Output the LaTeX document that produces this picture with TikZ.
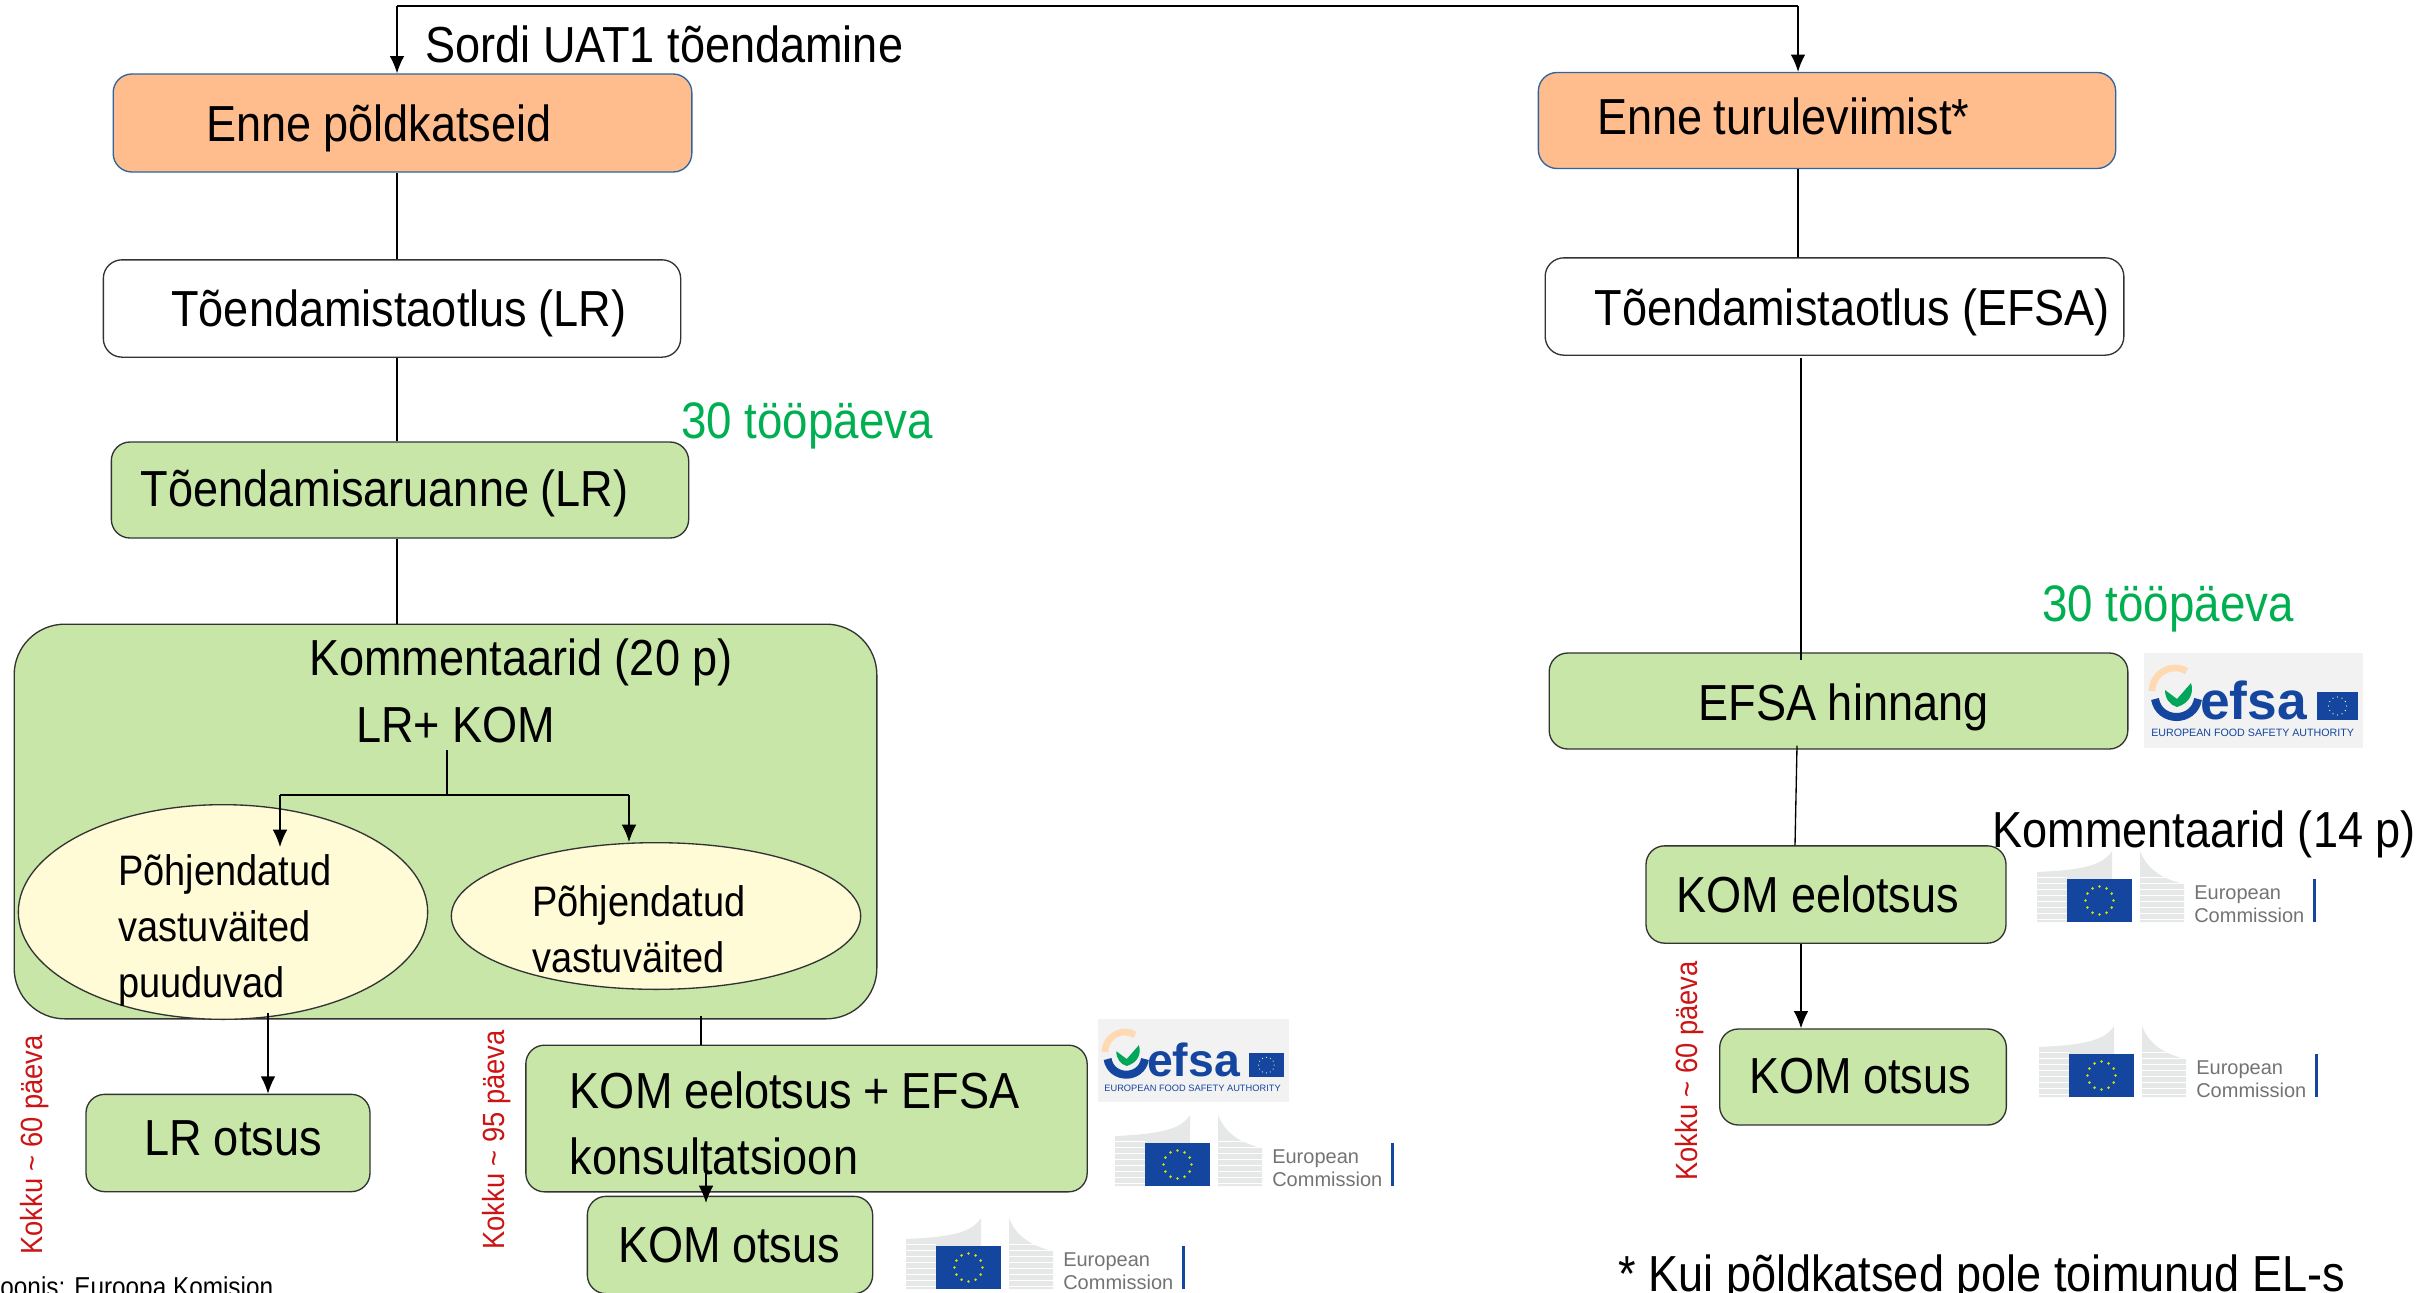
\documentclass[tikz,border=0pt]{standalone}
\usepackage{fontspec}
\setmainfont[FakeStretch=0.89]{Liberation Sans}
\newfontfamily\logofont{Liberation Sans}
\usetikzlibrary{arrows.meta,shapes.geometric}

\definecolor{kastroheline}{RGB}{199,230,168}
\definecolor{kastoranz}{RGB}{255,188,140}
\definecolor{kastkollane}{RGB}{255,251,214}
\definecolor{eusinine}{RGB}{20,70,160}
\definecolor{euhall}{RGB}{230,232,232}

\tikzset{
  kast/.style={draw=black!80,line width=1pt,rounded corners=14pt,inner xsep=0pt,inner ysep=0pt,text depth=0pt,
    align=left,font=\fontsize{38}{50}\selectfont,execute at begin node={\spaceskip=.23em\relax\hspace*{#1}}},
  rohekast/.style={kast=#1,fill=kastroheline},
  valgekast/.style={kast=#1,fill=white},
  oranzkast/.style={kast=#1,fill=kastoranz,draw={rgb,255:red,46;green,100;blue,160}},
  ovaal/.style={draw=black!80,line width=1pt,ellipse,fill=kastkollane,inner sep=0pt},
  tekst/.style={anchor=base west,inner sep=0pt,align=left,font=\fontsize{38}{50}\selectfont},
  ovaaltekst/.style={anchor=base west,inner sep=0pt,align=left,font=\fontsize{32}{42}\selectfont},
  rohetekst/.style={tekst,text={rgb,255:red,0;green,176;blue,80},font=\fontsize{38.5}{50}\selectfont},
  punanetekst/.style={rotate=90,inner sep=0pt,text={rgb,255:red,204;green,20;blue,20},font=\fontsize{23}{26}\selectfont},
  joon/.style={line width=1pt,black},
  nool/.style={joon,-{Latex[length=13pt,width=11pt]}},
  pics/eclogo/.style={code={
    \begin{scope}[yscale=-1]
    \fill[euhall] (-30,-7) .. controls (10,-9) and (35,-12) .. (45,-28) -- (45,0) -- (0,0) -- (0,43) -- (-30,43) -- cycle;
    \fill[euhall] (73,-28) .. controls (80,-10) and (95,0) .. (117,5) -- (117,43) -- (73,43) -- cycle;
    \foreach \y in {-2,4,...,40} {
      \draw[white,line width=0.5pt] (-30,\y) -- (0,\y);
      \draw[white,line width=0.5pt] (73,\y) -- (117,\y);
    }
    \fill[eusinine] (0,0) rectangle (65,43);
    \foreach \a in {0,30,...,330} \fill[yellow!80!green] (32.5,21.5) ++(\a:14) circle (1.4);
    \node (-nimi1) [anchor=base west,inner sep=0pt,text=black!55,font=\logofont\fontsize{15}{18}\selectfont] at (127,20) {European};
    \node (-nimi2) [anchor=base west,inner sep=0pt,text=black!55,font=\logofont\fontsize{15}{18}\selectfont] at (127,43) {Commission};
    \fill[eusinine] (246,0) rectangle (249,43);
    \end{scope}
  }},
  pics/efsalogo/.style={code={
    \begin{scope}[yscale=-1,scale=#1]
    \fill[black!5] (0,0) rectangle (219,95);
    \draw[orange!30,line width=5pt] (8,38) arc[start angle=180,end angle=300,radius=23];
    \draw[eusinine,line width=6pt] (11,46) .. controls (15,70) and (50,70) .. (54,46);
    \fill[teal!70!green] (21,37) -- (33,46) -- (47,30) .. controls (50,40) and (46,50) .. (33,54) .. controls (26,52) and (21,46) .. (21,37) -- cycle;
    \fill[eusinine] (173,39) rectangle (214,67);
    \foreach \a in {0,30,...,330} \fill[white!70!yellow] (193.5,53) ++(\a:9) circle (0.7);
    \node (-nimi) [anchor=base west,inner sep=0pt,text=eusinine,font=\logofont\bfseries\fontsize{40}{44}\selectfont] at (56,66) {\scalebox{#1}{efsa}};
    \node (-alla) [anchor=base west,inner sep=0pt,text=eusinine,font=\logofont\fontsize{8}{10}\selectfont] at (7,83) {\scalebox{#1}{EUROPEAN FOOD SAFETY AUTHORITY}};
    \end{scope}
  }}
}

\begin{document}
\begin{tikzpicture}[x=0.75pt,y=0.75pt,yscale=-1,xscale=1]
\clip (0,0) rectangle (2422,1292);

%Rectangles, left column
\node (poldkatseid) [oranzkast=70pt,text width=434pt,minimum height=73.5pt,text height=27.8pt] at (402.5,123) {Enne põldkatseid};
\node (taotluslr) [valgekast=51pt,text width=433pt,minimum height=73pt,text height=26.4pt] at (392,308.5) {Tõendamistaotlus (LR)};
\node (aruanne) [rohekast=22pt,text width=433pt,minimum height=72pt,text height=24pt] at (400,490) {Tõendamisaruanne (LR)};
\node (lrotsus) [rohekast=44pt,text width=213pt,minimum height=73pt,text height=18.7pt] at (228,1143) {LR otsus};
\node (konsult) [rohekast=33pt,text width=421pt,minimum height=110pt,text height=0pt,text depth=15.7pt] at (806.5,1118.5) {KOM eelotsus + EFSA\\\hspace*{33pt}konsultatsioon};
\node (otsusl) [rohekast=23pt,text width=214pt,minimum height=73pt,text height=25.5pt] at (730,1245) {KOM otsus};

%Comment block with two ellipses
\node (kommentaarid) [draw=black!80,line width=1pt,rounded corners=38pt,fill=kastroheline,minimum width=647pt,minimum height=296pt,inner sep=0pt] at (445.5,821.5) {};
\node (pohjendus1) [ovaal,minimum width=307pt,minimum height=161pt] at (223,912) {};
\node (pohjendus2) [ovaal,minimum width=307pt,minimum height=110pt] at (656,916) {};

%Rectangles, right column
\node (turg) [oranzkast=44pt,text width=433pt,minimum height=72pt,text height=20.8pt] at (1827,120.5) {Enne turuleviimist*};
\node (taotlusefsa) [valgekast=37pt,text width=434pt,minimum height=73pt,text height=28.5pt] at (1834.5,306.5) {Tõendamistaotlus (EFSA)};
\node (hinnang) [rohekast=112pt,text width=434pt,minimum height=72pt,text height=28.5pt] at (1838.5,701) {EFSA hinnang};
\node (eelotsus) [rohekast=23pt,text width=270pt,minimum height=73pt,text height=27.7pt] at (1826,894.5) {KOM eelotsus};
\node (otsusr) [rohekast=22pt,text width=215pt,minimum height=72pt,text height=24pt] at (1863,1077) {KOM otsus};

%Free ends of the lines
\coordinate (vasak) at (397,6);
\coordinate (parem) at (1798,6);
\coordinate (keskel) at (1801,358);
\coordinate (jagu) at (447,795);
\coordinate (jaguvasak) at (280,795);
\coordinate (jaguparem) at (629,795);

%Straight Lines
\draw[joon] (vasak) -- (parem);
\draw[nool] (vasak) -- (poldkatseid.north -| vasak);
\draw[nool] (parem) -- (turg.north -| parem);
\draw[joon] (poldkatseid.south -| vasak) -- (taotluslr.north -| vasak);
\draw[joon] (taotluslr.south -| vasak) -- (aruanne.north -| vasak);
\draw[joon] (aruanne.south -| vasak) -- (kommentaarid.north -| vasak);
\draw[joon] (turg.south -| parem) -- (taotlusefsa.north -| parem);
\draw[joon] (keskel) -- ([yshift=6pt]hinnang.north -| keskel);
\draw[joon] ([yshift=-3pt]hinnang.south -| 1797,0) -- (eelotsus.north -| 1795,0);
\draw[nool] (eelotsus.south -| keskel) -- (otsusr.north -| keskel);

%Split above the ellipses
\draw[joon] (447,750) -- (jagu);
\draw[joon] (jaguvasak) -- (jaguparem);
\draw[nool] (jaguvasak) -- (280,847);
\draw[nool] (jaguparem) -- (pohjendus2.north -| jaguparem);

%Lines leaving the block
\draw[nool] ([yshift=-5pt]kommentaarid.south -| 268,0) -- (lrotsus.north -| 268,0);
\draw[joon] ([yshift=-3pt]kommentaarid.south -| 701,0) -- (konsult.north -| 701,0);
\draw[nool] (706,1142) -- (706,1203);

%Text Nodes
\node (sordi) [tekst] at (425,62) {Sordi UAT1 tõendamine};
\node (kommtekst) [tekst] at (309,675) {Kommentaarid (20 p)};
\node (lrkom) [tekst] at (356,742) {LR+ KOM};
\node (ptekst1) [ovaaltekst] at (118,997) {Põhjendatud\\vastuväited\\puuduvad};
\node (ptekst2) [ovaaltekst] at (532,972) {Põhjendatud\\vastuväited};
\node (paevad1) [rohetekst] at (681,438) {30 tööpäeva};
\node (paevad2) [rohetekst] at (2042,621) {30 tööpäeva};
\node (komm14) [tekst] at (1992,847) {Kommentaarid (14 p)};
\node (kokku1) [punanetekst] at (35,1145) {Kokku \textasciitilde{} 60 päeva};
\node (kokku2) [punanetekst] at (497,1140) {Kokku \textasciitilde{} 95 päeva};
\node (kokku3) [punanetekst] at (1690,1071) {Kokku \textasciitilde{} 60 päeva};
\node (allikas) [anchor=base west,inner sep=0pt,font=\fontsize{20.5}{24}\selectfont] at (-12,1296) {Joonis: Euroopa Komisjon};
\node (markus) [tekst] at (1618,1291) {* Kui põldkatsed pole toimunud EL-s};

%Logos
\pic (efsa1) at (2144,653) {efsalogo=1};
\pic (efsa2) at (1098,1019) {efsalogo=0.87};
\pic (ek1) at (2067,879) {eclogo};
\pic (ek2) at (2069,1054) {eclogo};
\pic (ek3) at (1145,1143) {eclogo};
\pic (ek4) at (936,1246) {eclogo};

\end{tikzpicture}
\end{document}
